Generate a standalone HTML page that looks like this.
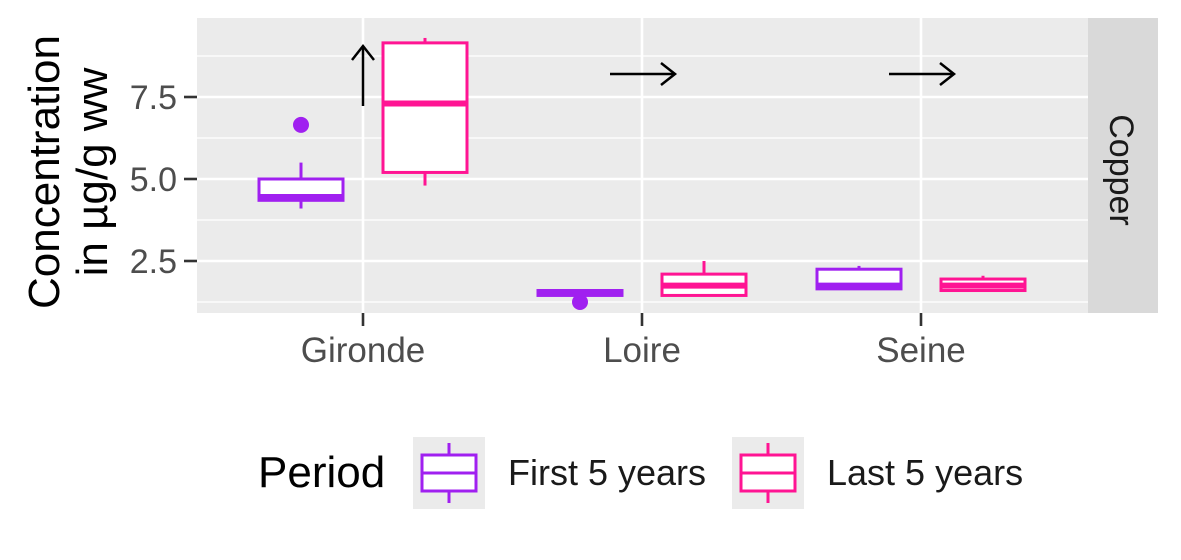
<!DOCTYPE html>
<html><head><meta charset="utf-8"><style>
body{margin:0;background:#fff;}
svg text{font-family:"Liberation Sans",Arial,sans-serif;}
</style></head><body>
<svg id="chart" width="1181" height="555" xmlns="http://www.w3.org/2000/svg">
<rect x="197" y="18" width="891" height="295" fill="#EBEBEB"/>
<g id="grid"></g>
<g id="boxes"></g>
<rect x="1088" y="18" width="70" height="295" fill="#D9D9D9"/>
<text x="1110" y="170" font-size="34" fill="#1A1A1A" text-anchor="middle" transform="rotate(90 1110 170)">Copper</text>
<g id="axes"></g>
<text x="59" y="172" font-size="44" fill="#000" text-anchor="middle" transform="rotate(-90 59 172)">Concentration</text>
<text x="107" y="172" font-size="44" fill="#000" text-anchor="middle" transform="rotate(-90 107 172)">in µg/g ww</text>
<g>
<text x="258" y="487" font-size="44" fill="#000">Period</text>
<g>
<rect x="413" y="437" width="72" height="72" fill="#EBEBEB"/>
<line x1="449" y1="443" x2="449" y2="503" stroke="#A020F0" stroke-width="3"/>
<rect x="422" y="455" width="54" height="36" fill="#fff" stroke="#A020F0" stroke-width="3"/>
<line x1="422" y1="473" x2="476" y2="473" stroke="#A020F0" stroke-width="3"/>
<text x="508" y="485" font-size="36" fill="#1A1A1A">First 5 years</text>
</g>
<g>
<rect x="732" y="437" width="72" height="72" fill="#EBEBEB"/>
<line x1="768" y1="443" x2="768" y2="503" stroke="#FF1493" stroke-width="3"/>
<rect x="741" y="455" width="54" height="36" fill="#fff" stroke="#FF1493" stroke-width="3"/>
<line x1="741" y1="473" x2="795" y2="473" stroke="#FF1493" stroke-width="3"/>
<text x="827" y="485" font-size="36" fill="#1A1A1A">Last 5 years</text>
</g>
</g>
</svg>
<script>
const categories=["Gironde","Loire","Seine"];
const periods=["First 5 years","Last 5 years"];
const whiskerLow=[[4.1,4.8],[1.45,1.45],[1.65,1.6]];
const q1=[[4.35,5.2],[1.45,1.45],[1.65,1.6]];
const median=[[4.45,7.3],[1.55,1.75],[1.75,1.75]];
const q3=[[5.0,9.15],[1.6,2.1],[2.25,1.95]];
const whiskerHigh=[[5.5,9.3],[1.6,2.5],[2.35,2.05]];
const outliers=[[[6.65],[]],[[1.25],[]],[[],[]]];
const trend=["up","right","right"];
const yTicks=[2.5,5.0,7.5];
const yTickLabels=["2.5","5.0","7.5"];
const yMinor=[1.25,3.75,6.25,8.75];

const NS="http://www.w3.org/2000/svg";
const colors=["#A020F0","#FF1493"];
const y=v=>179-(v-5)*32.8;
const x=i=>363+i*279;
function mk(p,t,a){const e=document.createElementNS(NS,t);for(const k in a)e.setAttribute(k,a[k]);p.appendChild(e);return e;}
const grid=document.getElementById('grid'),boxes=document.getElementById('boxes'),axes=document.getElementById('axes');
yMinor.forEach(v=>{const l=mk(grid,'line',{x1:197,x2:1088,y1:y(v),y2:y(v),stroke:'#fff','stroke-width':1.3});

});
yTicks.forEach((v,i)=>{const l=mk(grid,'line',{x1:197,x2:1088,y1:y(v),y2:y(v),stroke:'#fff','stroke-width':2.6});


const t=mk(axes,'line',{x1:184,x2:197,y1:y(v),y2:y(v),stroke:'#333','stroke-width':2.6});


const tx=mk(axes,'text',{x:177,y:y(v)+12,'font-size':34,fill:'#4D4D4D','text-anchor':'end'});tx.textContent=yTickLabels[i];

});
categories.forEach((c,i)=>{const g=mk(grid,'line',{x1:x(i),x2:x(i),y1:18,y2:313,stroke:'#fff','stroke-width':2.6});


const t=mk(axes,'line',{x1:x(i),x2:x(i),y1:313,y2:326,stroke:'#333','stroke-width':2.6});


const tx=mk(axes,'text',{x:x(i),y:362,'font-size':35,fill:'#4D4D4D','text-anchor':'middle'});tx.textContent=c;


periods.forEach((p,j)=>{const cx=x(i)+(j?62:-62),col=colors[j];
const b=mk(boxes,'g',{});


mk(b,'line',{x1:cx,x2:cx,y1:y(whiskerLow[i][j]),y2:y(q1[i][j]),stroke:col,'stroke-width':3});
mk(b,'line',{x1:cx,x2:cx,y1:y(q3[i][j]),y2:y(whiskerHigh[i][j]),stroke:col,'stroke-width':3});
mk(b,'rect',{x:cx-42,y:y(q3[i][j]),width:84,height:Math.max(0,y(q1[i][j])-y(q3[i][j])),fill:'#fff',stroke:col,'stroke-width':3});
mk(b,'line',{x1:cx-42,x2:cx+42,y1:y(median[i][j]),y2:y(median[i][j]),stroke:col,'stroke-width':6});
outliers[i][j].forEach(o=>mk(b,'circle',{cx:cx,cy:y(o),r:8,fill:col}));});
const a=mk(boxes,'g',{stroke:'#000','stroke-width':2.5,fill:'none'});


if(trend[i]==='up'){mk(a,'line',{x1:x(i),x2:x(i),y1:106,y2:46});mk(a,'polyline',{points:`${x(i)-11},60 ${x(i)},46 ${x(i)+11},60`});}
else{mk(a,'line',{x1:x(i)-32,x2:x(i)+33,y1:74,y2:74});mk(a,'polyline',{points:`${x(i)+19},63 ${x(i)+33},74 ${x(i)+19},85`});}
});
</script>
</body></html>
